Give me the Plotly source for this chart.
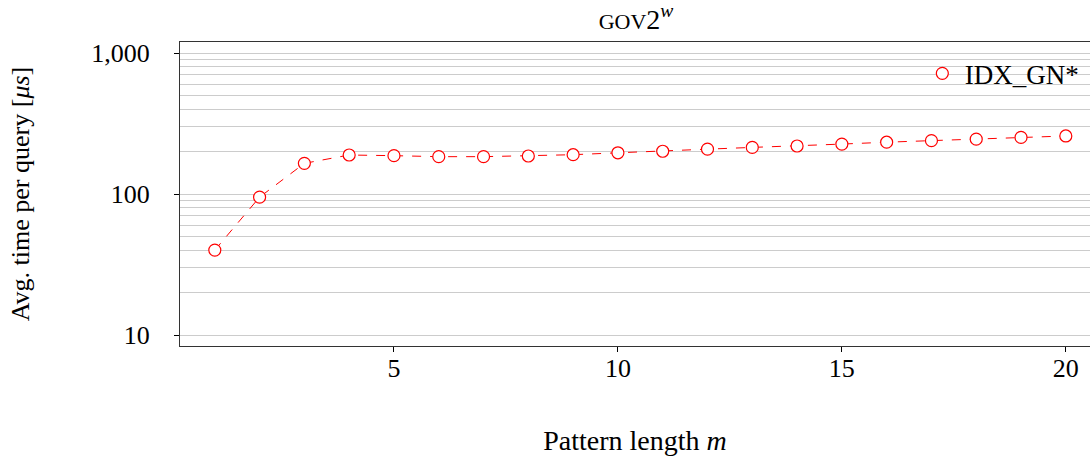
import plotly.graph_objects as go

pattern_length = list(range(1, 21))
avg_time_us = [40, 95, 165, 189, 187, 184, 184, 186, 190, 196,
               201, 208, 214, 219, 226, 233, 239, 245, 252, 258]
series_name = "IDX_GN*"
x_ticks = [5, 10, 15, 20]
y_ticks = [10, 100, 1000]
y_tick_text = ["10", "100", "1,000"]
minor_vals = [m * d for d in (10, 100) for m in range(2, 10)]

FONT = "Liberation Serif"
RED = "#ff0000"

fig = go.Figure()
fig.add_trace(go.Scatter(
    x=pattern_length, y=avg_time_us, mode="lines",
    line=dict(color=RED, width=1, dash="dash"), showlegend=False, hoverinfo="skip"))
fig.add_trace(go.Scatter(
    x=pattern_length, y=avg_time_us, mode="markers", name=series_name,
    marker=dict(symbol="circle", size=12, color="white", line=dict(color=RED, width=1.2))))

fig.update_layout(
    width=1090, height=458,
    margin=dict(l=180, r=0, t=42, b=112),
    paper_bgcolor="white", plot_bgcolor="white",
    font=dict(family=FONT, size=25, color="black"),
    title=dict(text="<span style='font-size:22px'>GOV</span>2<sup><i>w</i></sup>",
               x=0.5835, xanchor="center", y=0.958, yanchor="middle",
               font=dict(family=FONT, size=28)),
    legend=dict(x=0.813, xanchor="left", y=0.976, yanchor="top",
                bgcolor="rgba(0,0,0,0)", font=dict(family=FONT, size=27),
                itemwidth=35, tracegroupgap=0),
    showlegend=True,
)
fig.update_xaxes(
    range=[0.223, 20.54], tickvals=x_ticks, ticks="outside", ticklen=5,
    tickcolor="black", showgrid=False, zeroline=False, automargin=False,
    showline=True, linecolor="#333333", linewidth=1.2, mirror=True,
    tickfont=dict(size=26),
    title=dict(text="Pattern length <i>m</i>", standoff=48, font=dict(size=28)),
    ticklabelstandoff=-6,
)
fig.update_yaxes(
    type="log", range=[0.922, 3.078], tickvals=y_ticks, ticktext=y_tick_text,
    ticks="outside", ticklen=5, tickcolor="black", automargin=False,
    showgrid=True, gridcolor="#cccccc", gridwidth=1,
    minor=dict(tickvals=minor_vals, showgrid=True, gridcolor="#cccccc", gridwidth=1, ticks=""),
    zeroline=False, showline=True, linecolor="#333333", linewidth=1.2, mirror=True,
    tickfont=dict(size=26),
    title=dict(text="Avg. time per query [<i>μs</i>]", standoff=54, font=dict(size=26)),
    ticklabelstandoff=19,
)

fig.write_html("out.html", config={"displayModeBar": False},
               post_script="document.body.style.margin='0';document.body.style.overflow='hidden';")
